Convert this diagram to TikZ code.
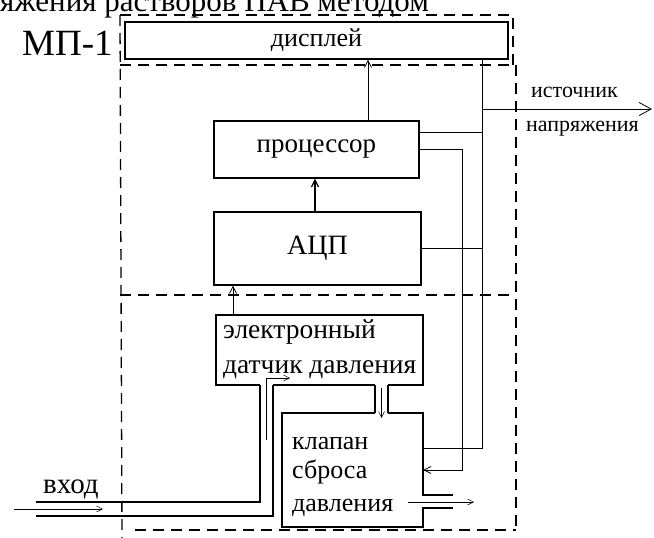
\documentclass[tikz,border=0pt]{standalone}
\usepackage{fontspec}
\setmainfont{Liberation Serif}
\usetikzlibrary{arrows.meta,calc}
\begin{document}
\begin{tikzpicture}[x=1pt,y=-1pt,
  box/.style={draw, line width=1.3pt, inner sep=0pt},
  wall/.style={line width=1.3pt, line join=miter},
  frame/.style={line width=1.3pt, dash pattern=on 11pt off 7pt},
  wire/.style={line width=0.8pt},
  flow/.style={line width=0.5pt, -{Straight Barb[length=6pt,width=6pt]}},
  arr/.style={-{Straight Barb[length=7pt,width=7pt]}},
  lbl/.style={inner sep=0pt, anchor=base west}]
\useasboundingbox (0,0) rectangle (654,538);

% captions
\node[lbl, font=\fontsize{31}{31}\selectfont] (cap) at (0,11) {яжения растворов ПАВ методом};
\node[lbl, font=\fontsize{37}{37}\selectfont] (mp) at (22,56) {МП-1};

% dashed frames
\draw[frame] (120,15) -- (513,15) -- (513,65);
\draw[frame] (120,65) -- (516,65) -- (516,530);
\draw[frame] (120,295) -- (516,295);
\draw[frame] (135,530) -- (516,530);
\draw[frame] (120,15) -- (122,538);

% blocks
\node[box, minimum width=383pt, minimum height=37pt, font=\fontsize{26}{26}\selectfont] (disp) at (316.5,40.5) {дисплей};
\node[box, minimum width=205pt, minimum height=57pt, font=\fontsize{27}{27}\selectfont] (proc) at (316.5,149.5) {процессор};
\node[box, minimum width=207pt, minimum height=73pt, font=\fontsize{28}{28}\selectfont] (adc) at (317.5,248.5) {АЦП};
\node[inner sep=0pt, minimum width=207pt, minimum height=70pt] (sen) at (319.5,350) {};
\node[inner sep=0pt, minimum width=141pt, minimum height=114pt] (valve) at (352.5,470) {};

% sensor outline
\draw[wall] (260,385) -- (216,385) -- (216,315) -- (423,315) -- (423,385) -- (388,385);
\draw[wall] (273,385) -- (375,385);
\node[lbl, font=\fontsize{27.5}{27.5}\selectfont] (sen1) at (223,338) {электронный};
\node[lbl, font=\fontsize{27.5}{27.5}\selectfont] (sen2) at (223,373) {датчик давления};

% valve outline
\draw[wall] (375,413) -- (282,413) -- (282,527) -- (423,527) -- (423,508) -- (453,508);
\draw[wall] (453,495) -- (423,495) -- (423,413) -- (388,413);
\node[lbl, font=\fontsize{26}{26}\selectfont] (v1) at (292,449) {клапан};
\node[lbl, font=\fontsize{26}{26}\selectfont] (v2) at (292,478) {сброса};
\node[lbl, font=\fontsize{26}{26}\selectfont] (v3) at (292,511) {давления};

% pipes
\draw[wall] (375,413) -- (375,385);
\draw[wall] (388,413) -- (388,385);
\draw[wall] (36,502) -- (260,502) -- (260,385);
\draw[wall] (36,516) -- (273,516) -- (273,385);
\node[lbl, font=\fontsize{29}{29}\selectfont] (inl) at (43,493) {вход};

% flows
\draw[flow] (14,509) -- (103,509);
\draw[flow] (266,440) -- (266,378) -- (290,378);
\draw[flow] (381.5,388) -- (381.5,418);
\draw[flow] (408,502) -- (474,502);

% signal connectors
\coordinate (xs) at (233,0);
\coordinate (xp) at (368,0);
\coordinate (xa) at (315,0);
\draw[wire,arr] (sen.north -| xs) -- (adc.south -| xs);
\draw[line width=1.2pt,arr] (adc.north -| xa) -- (proc.south -| xa);
\draw[wire,arr] (proc.north -| xp) -- (disp.south -| xp);

% power bus
\coordinate (bus) at (482,0);
\coordinate (j1) at (482,109);
\coordinate (src) at (652,109);
\coordinate (vp) at ([yshift=22pt]valve.east);
\coordinate (pp) at ([yshift=17.5pt]proc.east);
\draw[wire] (disp.south -| bus) -- (bus |- vp) -- (vp);
\draw[wire,-{Straight Barb[length=12pt,width=13pt]}] (j1) -- (src);
\draw[wire] (pp) -- (bus |- pp);
\draw[wire] (adc.east) -- (bus |- adc.east);
\node[lbl, font=\fontsize{22}{22}\selectfont] (s1) at (531,97) {источник};
\node[lbl, font=\fontsize{22}{22}\selectfont] (s2) at (526,131) {напряжения};

% control line
\coordinate (cx) at ($(valve.east)+(39,0)$);
\draw[wire,arr] (proc.east) -| (cx) -- (valve.east);
\end{tikzpicture}
\end{document}
